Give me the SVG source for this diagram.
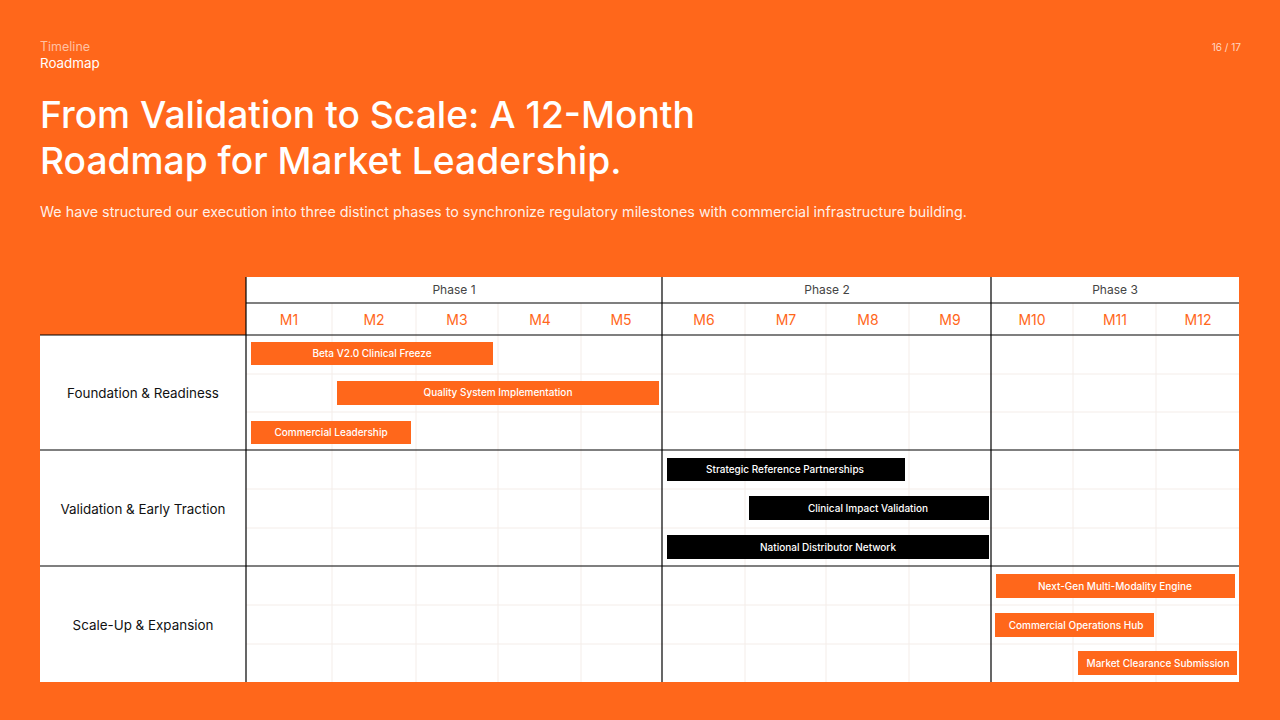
<svg xmlns="http://www.w3.org/2000/svg" width="1280" height="720" viewBox="0 0 1280 720">
<style>
text{font-family:Inter,"Liberation Sans",sans-serif}
.grid{stroke:#f4ede9;stroke-width:1}
.dark{stroke:#000;stroke-width:1.2}
.month{fill:#ff671b;font-size:14px;text-anchor:middle}
.phase{fill:#444;font-size:12px;text-anchor:middle}
.row{fill:#111;font-size:13.4px;text-anchor:middle}
.bo{fill:#ff671b}
.bk{fill:#000}
.bt{fill:#fff;font-size:10px;font-weight:500;text-anchor:middle}
</style>
<rect width="1280" height="720" fill="#ff671b"/>
<g id="header">
<text x="40" y="51" font-size="12.5" fill="#fff" fill-opacity="0.6">Timeline</text>
<text x="40" y="68" font-size="13.4" fill="#fff">Roadmap</text>
<text x="1241" y="51" font-size="10" fill="#fff" fill-opacity="0.75" text-anchor="end">16 / 17</text>
<text x="40" y="128" font-size="37.2" font-weight="500" fill="#fff">From Validation to Scale: A 12-Month</text>
<text x="40" y="174" font-size="37.2" font-weight="500" fill="#fff">Roadmap for Market Leadership.</text>
<text x="40" y="217" font-size="14.3" fill="#fff" fill-opacity="0.92">We have structured our execution into three distinct phases to synchronize regulatory milestones with commercial infrastructure building.</text>
</g>
<g id="table">
<rect x="246" y="277" width="993" height="405" fill="#fff"/>
<rect x="40" y="335" width="206" height="347" fill="#fff"/>
<g id="gridlines">
<line class="grid" x1="332" y1="303" x2="332" y2="682"/>
<line class="grid" x1="416" y1="303" x2="416" y2="682"/>
<line class="grid" x1="498" y1="303" x2="498" y2="682"/>
<line class="grid" x1="581" y1="303" x2="581" y2="682"/>
<line class="grid" x1="745" y1="303" x2="745" y2="682"/>
<line class="grid" x1="826" y1="303" x2="826" y2="682"/>
<line class="grid" x1="909" y1="303" x2="909" y2="682"/>
<line class="grid" x1="1073" y1="303" x2="1073" y2="682"/>
<line class="grid" x1="1156" y1="303" x2="1156" y2="682"/>
<line class="grid" x1="246" y1="374" x2="1239" y2="374"/>
<line class="grid" x1="246" y1="412" x2="1239" y2="412"/>
<line class="grid" x1="246" y1="489" x2="1239" y2="489"/>
<line class="grid" x1="246" y1="528" x2="1239" y2="528"/>
<line class="grid" x1="246" y1="605" x2="1239" y2="605"/>
<line class="grid" x1="246" y1="644" x2="1239" y2="644"/>
<line class="dark" x1="246" y1="303" x2="1239" y2="303"/>
<line class="dark" x1="40" y1="335" x2="1239" y2="335"/>
<line class="dark" x1="40" y1="450" x2="1239" y2="450"/>
<line class="dark" x1="40" y1="566" x2="1239" y2="566"/>
<line class="dark" x1="246" y1="277" x2="246" y2="682"/>
<line class="dark" x1="662" y1="277" x2="662" y2="682"/>
<line class="dark" x1="991" y1="277" x2="991" y2="682"/>
</g>
<g id="phases">
<text class="phase" x="454" y="294">Phase 1</text>
<text class="phase" x="827" y="294">Phase 2</text>
<text class="phase" x="1115" y="294">Phase 3</text>
</g>
<g id="months">
<text class="month" x="289" y="325">M1</text>
<text class="month" x="374" y="325">M2</text>
<text class="month" x="457" y="325">M3</text>
<text class="month" x="540" y="325">M4</text>
<text class="month" x="621" y="325">M5</text>
<text class="month" x="704" y="325">M6</text>
<text class="month" x="786" y="325">M7</text>
<text class="month" x="868" y="325">M8</text>
<text class="month" x="950" y="325">M9</text>
<text class="month" x="1032" y="325">M10</text>
<text class="month" x="1115" y="325">M11</text>
<text class="month" x="1198" y="325">M12</text>
</g>
<g id="rowlabels">
<text class="row" x="143" y="398">Foundation &amp; Readiness</text>
<text class="row" x="143" y="514">Validation &amp; Early Traction</text>
<text class="row" x="143" y="630">Scale-Up &amp; Expansion</text>
</g>
</g>
<g id="bar-beta"><rect class="bo" x="251" y="342" width="242" height="23"/><text class="bt" x="372" y="357">Beta V2.0 Clinical Freeze</text></g>
<g id="bar-quality"><rect class="bo" x="337" y="381" width="322" height="24"/><text class="bt" x="498" y="396">Quality System Implementation</text></g>
<g id="bar-commercial-leadership"><rect class="bo" x="251" y="421" width="160" height="23"/><text class="bt" x="331" y="436">Commercial Leadership</text></g>
<g id="bar-strategic"><rect class="bk" x="667" y="458" width="238" height="23"/><text class="bt" x="785" y="473">Strategic Reference Partnerships</text></g>
<g id="bar-clinical-impact"><rect class="bk" x="749" y="496" width="240" height="24"/><text class="bt" x="868" y="512">Clinical Impact Validation</text></g>
<g id="bar-distributor"><rect class="bk" x="667" y="535" width="322" height="24"/><text class="bt" x="828" y="551">National Distributor Network</text></g>
<g id="bar-nextgen"><rect class="bo" x="996" y="574" width="239" height="24"/><text class="bt" x="1115" y="590">Next-Gen Multi-Modality Engine</text></g>
<g id="bar-ops-hub"><rect class="bo" x="995" y="613" width="159" height="24"/><text class="bt" x="1076" y="629">Commercial Operations Hub</text></g>
<g id="bar-clearance"><rect class="bo" x="1078" y="651" width="159" height="24"/><text class="bt" x="1158" y="667">Market Clearance Submission</text></g>
</svg>
